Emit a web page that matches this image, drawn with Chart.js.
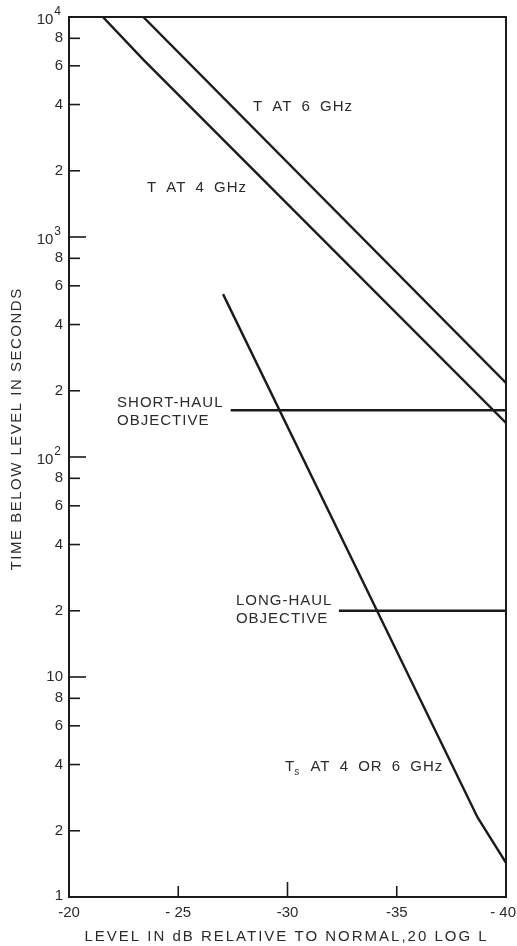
<!DOCTYPE html>
<html>
<head>
<meta charset="utf-8">
<script src="https://cdn.jsdelivr.net/npm/chart.js@4.4.1/dist/chart.umd.min.js"></script>
<style>
  html, body { margin: 0; padding: 0; background: #fff; }
  #wrap { width: 517px; height: 946px; }
</style>
</head>
<body>
<div id="wrap"><canvas id="fadeChart"></canvas></div>
<script>
// level in dB relative to normal (x) vs time below level in seconds (y)
const t4Levels = [-21.55, -23.4, -40];
const t4Times = [10000, 6400, 143];
const t6Levels = [-23.4, -40];
const t6Times = [10000, 217];
const tsLevels = [-27.05, -38.7, -40];
const tsTimes = [550, 2.3, 1.43];
const shortHaulLevels = [-27.4, -40];
const shortHaulTimes = [163, 163];
const longHaulLevels = [-32.35, -40];
const longHaulTimes = [20, 20];

const xTicks = [-20, -25, -30, -35, -40];
const xTickLabels = ['-20', '- 25', '-30', '-35', '- 40'];
const yTicks = [1, 2, 4, 6, 8, 10, 20, 40, 60, 80, 100, 200, 400, 600, 800, 1000, 2000, 4000, 6000, 8000, 10000];
const yTickLabels = ['1', '2', '4', '6', '8', '10', '2', '4', '6', '8', '10^2', '2', '4', '6', '8', '10^3', '2', '4', '6', '8', '10^4'];

const xTitle = 'LEVEL IN dB RELATIVE TO NORMAL,20 LOG L';
const yTitle = 'TIME BELOW LEVEL IN SECONDS';

// curve labels, anchored in data units (left edge, middle of first line)
const notes = [
    { lines: ['T AT 6 GHz'], x: -28.42, y: 3900 },
    { lines: ['T AT 4 GHz'], x: -23.57, y: 1670 },
    { lines: ['SHORT-HAUL', 'OBJECTIVE'], x: -22.2, y: 176 },
    { lines: ['LONG-HAUL', 'OBJECTIVE'], x: -27.64, y: 22.1 },
    { lines: ['T_s AT 4 OR 6 GHz'], x: -29.89, y: 3.9 }
];

const FONT = '"Liberation Sans", Arial, sans-serif';
const INK = '#1b1b1b';
const TEXT = '#2b2b2b';

function pairs(xs, ys) {
    return xs.map((x, i) => ({ x: x, y: ys[i] }));
}

function curve(label, xs, ys) {
    return {
        label: label,
        data: pairs(xs, ys),
        borderColor: INK,
        borderWidth: 2.4,
        pointRadius: 0,
        fill: false,
        tension: 0
    };
}

const paperPlugin = {
    id: 'paper',
    afterDraw(chart) {
        const ctx = chart.ctx;
        const a = chart.chartArea;
        const xs = chart.scales.x;
        const ys = chart.scales.y;
        ctx.save();

        // frame
        ctx.strokeStyle = INK;
        ctx.lineWidth = 2;
        ctx.strokeRect(a.left, a.top, a.right - a.left, a.bottom - a.top);

        // inward ticks on y
        ctx.lineWidth = 1.6;
        yTicks.forEach((v, i) => {
            const py = ys.getPixelForValue(v);
            const major = /^1(0|$)/.test(yTickLabels[i]);
            const len = major ? 17 : 11;
            ctx.beginPath();
            ctx.moveTo(a.left, py);
            ctx.lineTo(a.left + len, py);
            ctx.stroke();
        });
        // inward ticks on x
        xTicks.forEach((v, i) => {
            if (i === 0 || i === xTicks.length - 1) return;
            const px = xs.getPixelForValue(v);
            ctx.beginPath();
            ctx.moveTo(px, a.bottom);
            ctx.lineTo(px, a.bottom - (v === -30 ? 15 : 11));
            ctx.stroke();
        });

        ctx.fillStyle = TEXT;
        ctx.textBaseline = 'middle';

        // y tick labels
        yTicks.forEach((v, i) => {
            const py = ys.getPixelForValue(v);
            const lab = yTickLabels[i];
            const rightX = a.left - 6;
            if (lab.indexOf('^') > 0) {
                const parts = lab.split('^');
                ctx.font = '12px ' + FONT;
                ctx.textAlign = 'right';
                const sw = ctx.measureText(parts[1]).width;
                ctx.fillText(parts[1], rightX - 2, py - 5);
                ctx.font = '15px ' + FONT;
                ctx.fillText(parts[0], rightX - 2 - sw - 1, py + 3);
            } else {
                ctx.font = '15px ' + FONT;
                ctx.textAlign = 'right';
                ctx.fillText(lab, rightX, v === 1 ? py - 1 : py);
            }
        });

        // x tick labels
        ctx.font = '15px ' + FONT;
        ctx.textAlign = 'center';
        xTicks.forEach((v, i) => {
            const lab = xTickLabels[i];
            const w = ctx.measureText(lab).width;
            const px = Math.min(xs.getPixelForValue(v), chart.width - w / 2 - 1);
            ctx.fillText(lab, px, a.bottom + 16);
        });

        // axis titles
        ctx.letterSpacing = '2px';
        ctx.font = '15px ' + FONT;
        ctx.textAlign = 'center';
        ctx.fillText(xTitle, (a.left + a.right) / 2 - 1, a.bottom + 40);
        ctx.letterSpacing = '1.5px';
        ctx.save();
        ctx.translate(17, a.top + (a.bottom - a.top) * 0.468);
        ctx.rotate(-Math.PI / 2);
        ctx.fillText(yTitle, 0, 0);
        ctx.restore();

        // curve labels
        ctx.font = '15px ' + FONT;
        ctx.textAlign = 'left';
        ctx.letterSpacing = '1px';
        ctx.wordSpacing = '4px';
        notes.forEach(n => {
            const px = xs.getPixelForValue(n.x);
            const py = ys.getPixelForValue(n.y);
            n.lines.forEach((line, k) => {
                const ly = py + k * 18;
                if (line.indexOf('_') === 1) {
                    ctx.font = '15px ' + FONT;
                    ctx.fillText(line[0], px, ly);
                    const tw = ctx.measureText(line[0]).width;
                    ctx.font = '10px ' + FONT;
                    ctx.fillText(line[2], px + tw - 1, ly + 5);
                    const sw = ctx.measureText(line[2]).width;
                    ctx.font = '15px ' + FONT;
                    ctx.fillText(line.slice(3), px + tw + sw, ly);
                } else {
                    ctx.fillText(line, px, ly);
                }
            });
        });
        ctx.restore();
    }
};

document.addEventListener('DOMContentLoaded', () => {
    const fadeCtx = document.getElementById('fadeChart').getContext('2d');
    new Chart(fadeCtx, {
        type: 'line',
        data: {
            datasets: [
                curve('T at 4 GHz', t4Levels, t4Times),
                curve('T at 6 GHz', t6Levels, t6Times),
                curve('Ts at 4 or 6 GHz', tsLevels, tsTimes),
                curve('Short-haul objective', shortHaulLevels, shortHaulTimes),
                curve('Long-haul objective', longHaulLevels, longHaulTimes)
            ]
        },
        options: {
            responsive: true,
            maintainAspectRatio: false,
            animation: false,
            layout: { padding: { left: 69, right: 11, top: 17, bottom: 49 } },
            plugins: {
                legend: { display: false },
                tooltip: { enabled: false }
            },
            scales: {
                x: {
                    type: 'linear',
                    min: -40,
                    max: -20,
                    reverse: true,
                    afterBuildTicks: s => { s.ticks = xTicks.map(v => ({ value: v })); },
                    grid: { display: false, drawTicks: false },
                    border: { display: false },
                    ticks: { display: false }
                },
                y: {
                    type: 'logarithmic',
                    min: 1,
                    max: 10000,
                    afterBuildTicks: s => { s.ticks = yTicks.map(v => ({ value: v })); },
                    grid: { display: false, drawTicks: false },
                    border: { display: false },
                    ticks: { display: false }
                }
            }
        },
        plugins: [paperPlugin]
    });
});
</script>
</body>
</html>
